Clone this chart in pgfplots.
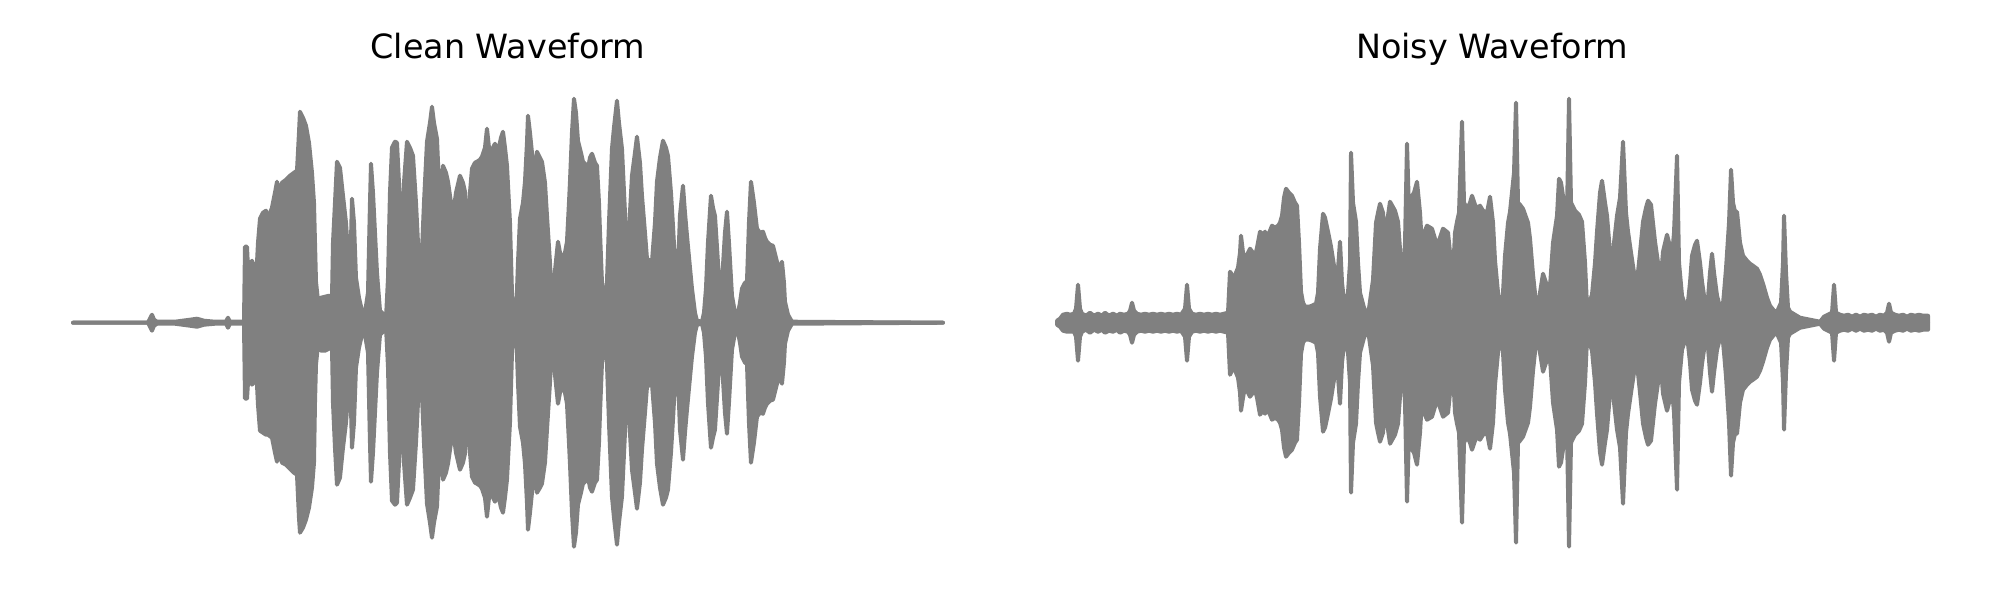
\documentclass[border=0pt]{standalone}
\usepackage{pgfplots}
\pgfplotsset{compat=1.18}
\usepackage{pgfplotstable}
\usepackage{fontspec}
\setmainfont{DejaVu Sans}

\pgfplotstableread{
x t b
73 0 0
148 0 0
150 4 -4
152 8 -8
154 3 -3
157 1 -1
175 1 -1
190 3 -3
197 4 -4
204 2 -2
215 1 -1
226 1 -1
228 5 -5
230 1 -1
244 1 -1
245 76 -76
247 76 -76
248 55 -60
250 58 -55
252 62 -62
254 56 -58
257 60 -62
258 80 -82
260 104 -108
263 110 -110
266 112 -112
268 104 -112
272 115 -115
275 130 -130
277 141 -139
279 128 -128
282 140 -140
286 143 -142
290 147 -146
294 150 -150
297 152 -152
299 190 -195
300 211 -210
303 205 -205
306 197 -197
309 180 -185
312 150 -165
314 120 -140
315 80 -80
316 41 -42
318 22 -22
321 25 -28
325 26 -28
329 27 -26
332 25 -24
333 80 -80
335 120 -125
337 161 -162
340 155 -155
343 127 -125
346 100 -100
349 55 -60
350 40 -45
352 124 -125
354 100 -100
356 45 -45
359 25 -25
362 12 -12
365 10 -12
368 30 -30
370 120 -120
371 159 -159
373 130 -130
375 90 -90
377 50 -50
380 12 -12
384 8 -8
386 4 -4
388 44 -44
390 130 -130
392 175 -178
395 181 -182
397 180 -180
400 120 -120
402 67 -70
404 140 -140
407 181 -182
410 175 -175
413 167 -167
416 120 -120
419 60 -60
421 47 -49
424 120 -120
427 181 -181
430 200 -200
432 216 -215
434 200 -200
437 184 -184
440 114 -114
443 157 -157
446 150 -150
448 141 -141
451 120 -120
453 107 -107
456 130 -130
460 147 -147
463 140 -140
465 131 -131
467 100 -100
468 81 -81
470 130 -130
472 154 -154
475 160 -160
477 161 -161
480 163 -163
482 166 -166
485 175 -175
487 194 -194
489 175 -175
490 167 -167
493 175 -175
495 179 -179
498 171 -171
501 185 -185
503 191 -190
505 175 -175
507 157 -157
510 100 -100
512 30 -30
514 4 -4
516 4 -4
518 60 -60
520 104 -104
523 120 -120
525 141 -141
527 180 -180
528 207 -207
530 190 -190
533 160 -160
535 150 -150
537 171 -170
540 165 -165
542 161 -161
545 140 -140
547 107 -107
550 60 -60
552 20 -20
553 11 -11
555 52 -52
558 81 -81
560 70 -70
562 64 -64
565 70 -70
567 81 -81
569 120 -120
570 141 -141
572 190 -190
574 224 -224
576 210 -210
578 182 -182
581 170 -170
583 161 -161
586 158 -158
588 154 -154
590 165 -165
592 169 -169
595 160 -160
597 157 -157
599 120 -120
600 91 -91
602 40 -40
603 14 -14
605 25 -25
607 41 -41
609 100 -100
612 174 -174
614 195 -195
617 222 -222
619 200 -200
622 174 -174
625 110 -110
627 51 -51
630 110 -110
632 147 -147
635 170 -170
637 186 -186
640 160 -160
642 127 -127
645 90 -90
647 64 -64
650 62 -62
652 61 -61
655 100 -100
657 141 -141
660 165 -165
663 182 -182
666 175 -175
668 167 -167
671 130 -130
673 97 -97
675 60 -60
677 34 -34
679 80 -80
680 107 -107
683 137 -137
685 110 -110
687 87 -87
690 55 -55
692 34 -34
695 10 -10
697 2 -2
702 1 -1
704 10 -10
706 34 -34
708 80 -80
711 127 -125
713 115 -115
715 107 -107
718 60 -60
720 21 -21
722 40 -40
725 90 -90
727 111 -111
729 80 -80
732 27 -27
735 10 -10
737 4 -4
740 20 -20
742 34 -34
745 40 -40
747 41 -41
749 100 -100
751 141 -140
754 120 -120
757 94 -94
760 90 -90
763 91 -91
765 85 -85
767 81 -81
770 78 -78
773 77 -77
776 65 -65
778 57 -57
780 55 -55
782 61 -61
784 40 -40
785 21 -21
788 8 -8
792 1 -1
943 0 0
}\cleantab

\pgfplotstableread{
x t b
1057 2 -2
1060 4 -4
1063 8 -8
1067 9 -9
1070 8 -9
1074 9 -9
1076 14 -14
1078 38 -38
1080 14 -14
1082 9 -9
1086 7 -7
1090 10 -10
1094 7 -7
1098 9 -9
1102 7 -7
1105 10 -10
1109 7 -8
1113 9 -9
1117 7 -7
1120 9 -10
1124 8 -8
1128 9 -9
1130 12 -12
1132 20 -20
1134 12 -12
1137 9 -9
1141 8 -8
1145 9 -9
1149 8 -8
1153 9 -9
1157 8 -8
1161 9 -9
1165 8 -8
1169 9 -9
1173 8 -8
1177 9 -9
1181 8 -8
1185 14 -14
1187 38 -38
1189 14 -14
1192 9 -9
1196 8 -8
1200 9 -9
1204 8 -8
1208 9 -9
1212 8 -8
1216 9 -9
1220 8 -8
1224 9 -9
1228 10 -10
1230 51 -52
1232 48 -48
1234 41 -41
1236 50 -50
1238 55 -55
1240 70 -70
1241 87 -88
1243 70 -75
1245 64 -64
1248 70 -70
1250 74 -74
1253 70 -70
1255 67 -67
1257 75 -75
1260 91 -92
1263 88 -88
1265 91 -91
1267 86 -86
1270 92 -92
1272 97 -97
1275 95 -95
1278 97 -97
1280 100 -100
1282 107 -107
1284 125 -125
1286 134 -134
1289 130 -130
1292 127 -127
1295 120 -120
1297 117 -117
1299 80 -80
1301 31 -31
1303 20 -20
1305 16 -17
1309 16 -17
1312 17 -18
1316 19 -20
1318 30 -30
1320 74 -74
1323 109 -109
1325 105 -105
1328 91 -91
1331 76 -76
1334 57 -57
1337 40 -40
1340 81 -81
1342 40 -40
1345 13 -13
1348 30 -30
1350 60 -60
1351 170 -170
1353 120 -120
1356 101 -101
1358 60 -60
1360 30 -30
1364 15 -15
1368 7 -7
1373 43 -43
1376 100 -100
1378 110 -110
1380 119 -119
1383 110 -110
1385 83 -83
1387 100 -100
1390 121 -121
1395 112 -112
1398 101 -101
1401 60 -60
1403 40 -40
1405 80 -80
1407 179 -179
1409 110 -110
1412 127 -127
1414 130 -130
1417 141 -142
1420 110 -110
1422 76 -76
1424 90 -90
1427 97 -97
1432 94 -94
1435 84 -84
1437 76 -76
1440 85 -85
1443 94 -94
1448 90 -90
1451 60 -60
1453 49 -49
1455 90 -90
1457 101 -101
1459 110 -110
1462 201 -200
1464 120 -120
1467 114 -114
1470 120 -120
1472 127 -127
1475 118 -118
1477 114 -114
1480 117 -117
1483 112 -112
1487 110 -110
1490 126 -126
1493 100 -100
1495 62 -62
1498 30 -30
1500 8 -8
1503 30 -30
1505 67 -67
1508 100 -100
1510 111 -111
1514 150 -150
1516 220 -220
1518 120 -120
1520 118 -118
1523 114 -114
1528 100 -100
1530 84 -84
1533 48 -48
1536 20 -20
1538 13 -13
1540 30 -30
1543 49 -49
1546 40 -40
1550 36 -36
1553 80 -80
1557 107 -107
1559 144 -144
1561 140 -140
1564 120 -120
1567 110 -110
1569 224 -224
1571 120 -120
1575 112 -112
1579 108 -108
1582 101 -101
1585 60 -60
1587 16 -16
1590 22 -22
1592 28 -28
1595 60 -60
1597 91 -91
1600 130 -130
1602 142 -142
1605 120 -120
1607 107 -107
1610 70 -70
1612 39 -39
1614 80 -80
1617 107 -107
1620 125 -125
1623 181 -181
1626 110 -110
1628 91 -91
1631 70 -70
1634 50 -50
1637 41 -41
1640 70 -70
1643 101 -101
1646 115 -115
1648 122 -122
1651 118 -118
1655 81 -81
1658 60 -60
1660 34 -34
1663 71 -71
1667 88 -88
1670 76 -76
1672 67 -67
1674 90 -90
1677 167 -167
1679 60 -60
1682 27 -27
1687 12 -12
1690 40 -40
1692 67 -67
1695 78 -78
1697 82 -82
1700 60 -60
1702 41 -41
1705 20 -20
1707 12 -12
1710 50 -50
1712 69 -69
1714 50 -50
1717 27 -27
1722 8 -8
1724 30 -30
1726 54 -54
1729 100 -100
1731 153 -153
1733 120 -120
1735 111 -111
1737 111 -111
1740 80 -80
1743 67 -67
1747 62 -62
1750 59 -59
1753 57 -57
1757 54 -54
1760 48 -48
1763 39 -39
1767 25 -25
1770 17 -17
1774 12 -12
1777 11 -11
1781 20 -20
1783 60 -60
1784 107 -107
1786 50 -50
1788 15 -15
1790 11 -11
1795 8 -8
1800 5 -5
1810 3 -3
1820 1 -1
1824 6 -6
1828 8 -8
1832 10 -10
1834 38 -38
1836 10 -10
1840 8 -8
1844 7 -7
1848 8 -8
1852 6 -6
1856 8 -8
1860 6 -6
1864 8 -8
1868 7 -7
1872 8 -8
1876 6 -6
1880 8 -8
1884 7 -7
1887 10 -10
1889 19 -19
1891 10 -10
1895 8 -8
1899 7 -7
1903 8 -8
1907 6 -6
1911 8 -8
1915 7 -7
1919 8 -8
1923 7 -7
1928 7 -7
}\noisytab

\pgfplotsset{
  wave/.style={draw=gray, fill=gray, line width=0.04cm, line join=round, line cap=round, mark=none},
  waveaxis/.style={anchor=south west, scale only axis, height=6cm,
    ymin=-277.3, ymax=322.7, axis lines=none, clip=false, ticks=none}
}

\begin{document}
\begin{tikzpicture}
\useasboundingbox (0,0) rectangle (20cm,6cm);
\begin{axis}[waveaxis, at={(0.73cm,0cm)}, width=8.70cm, xmin=73, xmax=943]
  \addplot[wave] table[x=x, y=t] {\cleantab} \closedcycle;
  \addplot[wave] table[x=x, y=b] {\cleantab} \closedcycle;
  \node[anchor=base, font=\fontsize{9.5}{11.5}\selectfont] at (axis cs:508,264) {Clean Waveform};
\end{axis}
\begin{axis}[waveaxis, at={(10.57cm,0cm)}, width=8.71cm, xmin=1057, xmax=1928]
  \addplot[wave] table[x=x, y=t] {\noisytab} \closedcycle;
  \addplot[wave] table[x=x, y=b] {\noisytab} \closedcycle;
  \node[anchor=base, font=\fontsize{9.5}{11.5}\selectfont] at (axis cs:1492,264) {Noisy Waveform};
\end{axis}
\end{tikzpicture}
\end{document}
